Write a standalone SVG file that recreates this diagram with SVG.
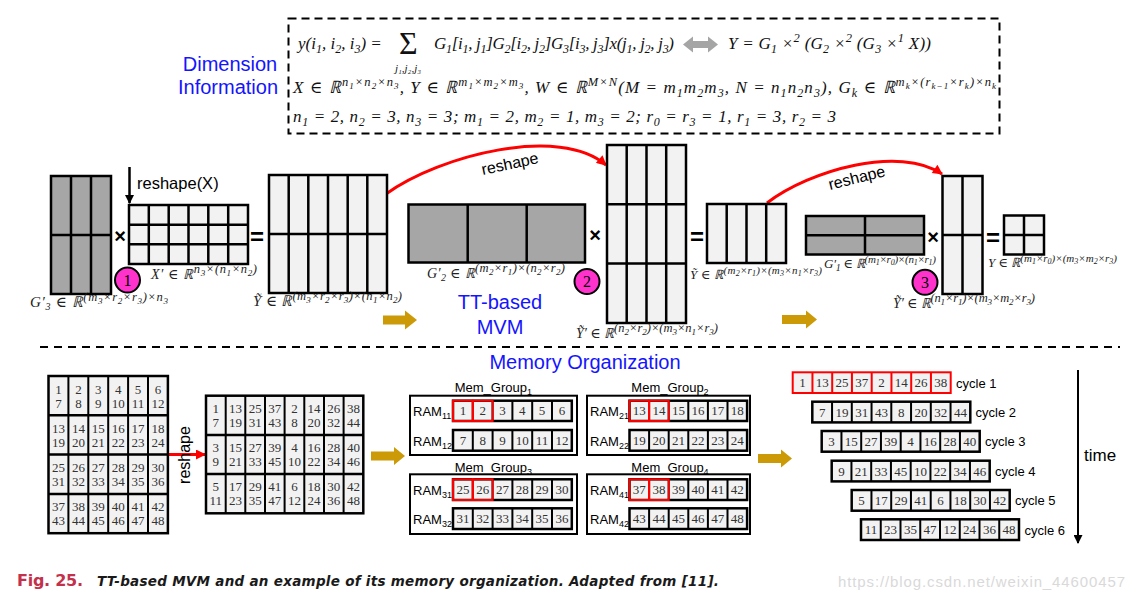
<svg xmlns="http://www.w3.org/2000/svg" width="1133" height="601" viewBox="0 0 1133 601">
<defs>
<style>
.sans{font-family:"Liberation Sans",Arial,sans-serif}
.fm{font-family:"Liberation Serif","DejaVu Serif",serif;font-style:italic;font-size:17px;fill:#111}
.sb{font-size:12px;baseline-shift:-4px}
.sp{font-size:12.5px;baseline-shift:7px}
.sq{font-size:9px;baseline-shift:4px}
.lb{font-family:"Liberation Serif","DejaVu Serif",serif;font-style:italic;fill:#222}
.p{font-size:12.5px;baseline-shift:6.5px}
.q{font-size:9px;baseline-shift:3.5px}
.p2{font-size:11px;baseline-shift:5.5px}
.q2{font-size:8px;baseline-shift:3px}
.u{font-size:10px;baseline-shift:-3px}
.blue{font-family:"Liberation Sans",Arial,sans-serif;font-size:20px;fill:#1414ff;text-anchor:middle}
.lc{fill:#f2f2f2;stroke:#000;stroke-width:2.5}
.dk{fill:#a6a6a6;stroke:#000;stroke-width:2.5}
.gl{stroke:#000;stroke-width:2.5;fill:none}
.cl{stroke:#000;stroke-width:2;fill:none}
.row{fill:#f2f2f2;stroke:#000;stroke-width:2.5}
.n{font-family:"Liberation Serif","DejaVu Serif",serif;font-size:13px;text-anchor:middle;fill:#333}
.op{font-family:"Liberation Sans",Arial,sans-serif;font-weight:bold;text-anchor:middle;fill:#000}
.gold{fill:#cc9a06}
.red{stroke:#f00;stroke-width:3;fill:none}
.circ{fill:#ff33cc;stroke:#000;stroke-width:2}
.cn{font-family:"Liberation Serif",serif;font-size:16px;text-anchor:middle;fill:#000}
.rc{fill:none;stroke:#f00;stroke-width:2}
.ram{font-family:"Liberation Sans",Arial,sans-serif;font-size:13px;fill:#000}
.rs{font-size:9px;baseline-shift:-3px}
.grp{fill:#fff;stroke:#000;stroke-width:2}
.cyc{font-family:"Liberation Sans",Arial,sans-serif;font-size:13px;fill:#000}
.cap{font-family:"DejaVu Sans","Liberation Sans",sans-serif;font-weight:bold}
</style>
<marker id="ar" viewBox="0 0 10 10" refX="9" refY="5" markerWidth="12" markerHeight="10" markerUnits="userSpaceOnUse" orient="auto"><path d="M0,0L10,5L0,10z" fill="#f00"/></marker>
<marker id="ak" viewBox="0 0 10 10" refX="9" refY="5" markerWidth="11" markerHeight="9" markerUnits="userSpaceOnUse" orient="auto"><path d="M0,0L10,5L0,10z" fill="#000"/></marker>
</defs>
<rect width="1133" height="601" fill="#fff"/>

<g id="dim-title">
<text class="blue" x="230" y="70.5">Dimension</text>
<text class="blue" x="228" y="94">Information</text>
</g>
<g id="formula-box">
<rect x="288.5" y="18.5" width="711" height="115" fill="none" stroke="#000" stroke-width="2" stroke-dasharray="8 5"/>
<text class="fm" x="298" y="49">y(i<tspan class="sb">1</tspan>, i<tspan class="sb">2</tspan>, i<tspan class="sb">3</tspan>) =</text>
<text x="399" y="54" font-family="Liberation Serif,DejaVu Serif,serif" font-size="32" fill="#111">Σ</text>
<text class="fm" x="408" y="72" text-anchor="middle" style="font-size:11px">j₁,j₂,j₃</text>
<text class="fm" x="434" y="49" textLength="240">G<tspan class="sb">1</tspan>[i<tspan class="sb">1</tspan>, j<tspan class="sb">1</tspan>]G<tspan class="sb">2</tspan>[i<tspan class="sb">2</tspan>, j<tspan class="sb">2</tspan>]G<tspan class="sb">3</tspan>[i<tspan class="sb">3</tspan>, j<tspan class="sb">3</tspan>]x(j<tspan class="sb">1</tspan>, j<tspan class="sb">2</tspan>, j<tspan class="sb">3</tspan>)</text>
<polygon points="683,44.5 693,36.5 693,41 708,41 708,36.5 718,44.5 708,52.5 708,48 693,48 693,52.5" fill="#a5a5a5"/>
<text class="fm" x="728" y="49" textLength="203">Y = G<tspan class="sb">1</tspan> ×<tspan class="sp">2</tspan> (G<tspan class="sb">2</tspan> ×<tspan class="sp">2</tspan> (G<tspan class="sb">3</tspan> ×<tspan class="sp">1</tspan> X))</text>
<text class="fm" x="293" y="93" textLength="703">X ∈ ℝ<tspan class="sp">n</tspan><tspan class="sq">1</tspan><tspan class="sp">×n</tspan><tspan class="sq">2</tspan><tspan class="sp">×n</tspan><tspan class="sq">3</tspan>, Y ∈ ℝ<tspan class="sp">m</tspan><tspan class="sq">1</tspan><tspan class="sp">×m</tspan><tspan class="sq">2</tspan><tspan class="sp">×m</tspan><tspan class="sq">3</tspan>, W ∈ ℝ<tspan class="sp">M×N</tspan>(M = m<tspan class="sb">1</tspan>m<tspan class="sb">2</tspan>m<tspan class="sb">3</tspan>, N = n<tspan class="sb">1</tspan>n<tspan class="sb">2</tspan>n<tspan class="sb">3</tspan>), G<tspan class="sb">k</tspan> ∈ ℝ<tspan class="sp">m</tspan><tspan class="sq">k</tspan><tspan class="sp">×(r</tspan><tspan class="sq">k−1</tspan><tspan class="sp">×r</tspan><tspan class="sq">k</tspan><tspan class="sp">)×n</tspan><tspan class="sq">k</tspan></text>
<text class="fm" x="293" y="122" textLength="543">n<tspan class="sb">1</tspan> = 2, n<tspan class="sb">2</tspan> = 3, n<tspan class="sb">3</tspan> = 3; m<tspan class="sb">1</tspan> = 2, m<tspan class="sb">2</tspan> = 1, m<tspan class="sb">3</tspan> = 2; r<tspan class="sb">0</tspan> = r<tspan class="sb">3</tspan> = 1, r<tspan class="sb">1</tspan> = 3, r<tspan class="sb">2</tspan> = 3</text>
</g>

<g id="connectors">
<line x1="129.5" y1="167" x2="129.5" y2="203" stroke="#000" stroke-width="2.5" marker-end="url(#ak)"/>
<path class="red" d="M386,194 C440,155 560,125 606,165" marker-end="url(#ar)"/>
<path class="red" d="M767,203 C810,170 900,145 942,174" marker-end="url(#ar)"/>
<line class="red" x1="168" y1="454.5" x2="205" y2="454.5" marker-end="url(#ar)"/>
<line x1="1078" y1="370" x2="1078" y2="543" stroke="#000" stroke-width="2" marker-end="url(#ak)"/>
<polygon class="gold" points="383,315.5 405,315.5 405,310.5 417,320 405,329.5 405,324.5 383,324.5"/>
<polygon class="gold" points="782,315 806,315 806,310.5 817,319.5 806,328.5 806,324 782,324"/>
<polygon class="gold" points="371,451.5 394,451.5 394,447 405,456 394,465 394,460.5 371,460.5"/>
<polygon class="gold" points="758,454 781,454 781,449.5 792,458.5 781,467.5 781,463 758,463"/>
<text class="sans" x="0" y="0" font-size="16" text-anchor="middle" transform="translate(511,169) rotate(-12)">reshape</text>
<text class="sans" x="0" y="0" font-size="16" text-anchor="middle" transform="translate(858,183) rotate(-14)">reshape</text>
<text class="sans" x="137" y="189" font-size="16.5">reshape(X)</text>
<text class="sans" x="0" y="0" font-size="16" text-anchor="middle" transform="translate(189.5,455) rotate(-90)">reshape</text>
<text class="sans" x="1084" y="461" font-size="17">time</text>
</g>

<g id="G3p">
<rect class="dk" x="51" y="176" width="60" height="118"/>
<path class="gl" d="M71,176V294M91,176V294M51,235H111"/>
<text class="lb" x="30" y="307" font-size="15" textLength="138">G′<tspan class="u">3</tspan> ∈ ℝ<tspan class="p">(m</tspan><tspan class="q">3</tspan><tspan class="p">×r</tspan><tspan class="q">2</tspan><tspan class="p">×r</tspan><tspan class="q">3</tspan><tspan class="p">)×n</tspan><tspan class="q">3</tspan></text>
</g>
<g id="op1"><text class="op" x="120" y="243" font-size="20">×</text></g>
<g id="Xp">
<rect class="lc" x="129" y="205" width="119" height="59"/>
<path class="gl" d="M148.8,205V264M168.7,205V264M188.5,205V264M208.3,205V264M228.2,205V264M129,224.7H248M129,244.3H248"/>
<text class="lb" x="151" y="279" font-size="14" textLength="106">X′ ∈ ℝ<tspan class="p">n</tspan><tspan class="q">3</tspan><tspan class="p">×(n</tspan><tspan class="q">1</tspan><tspan class="p">×n</tspan><tspan class="q">2</tspan><tspan class="p">)</tspan></text>
</g>
<g id="step1"><circle class="circ" cx="127.5" cy="280" r="12.5"/><text class="cn" x="127.5" y="285.5">1</text></g>
<g id="eq1"><text class="op" x="257" y="245" font-size="24">=</text></g>
<g id="Yt1">
<rect class="lc" x="269" y="175" width="118" height="118"/>
<path class="gl" d="M288.7,175V293M308.3,175V293M328,175V293M347.7,175V293M367.3,175V293M269,234H387"/>
<text class="lb" x="253" y="306" font-size="15" textLength="149">Ỹ ∈ ℝ<tspan class="p">(m</tspan><tspan class="q">3</tspan><tspan class="p">×r</tspan><tspan class="q">2</tspan><tspan class="p">×r</tspan><tspan class="q">3</tspan><tspan class="p">)×(n</tspan><tspan class="q">1</tspan><tspan class="p">×n</tspan><tspan class="q">2</tspan><tspan class="p">)</tspan></text>
</g>
<g id="G2p">
<rect class="dk" x="408.5" y="204.5" width="176.5" height="58"/>
<path class="gl" d="M467.7,204.5V262.5M526.7,204.5V262.5"/>
<text class="lb" x="427" y="278" font-size="14" textLength="138">G′<tspan class="u">2</tspan> ∈ ℝ<tspan class="p">(m</tspan><tspan class="q">2</tspan><tspan class="p">×r</tspan><tspan class="q">1</tspan><tspan class="p">)×(n</tspan><tspan class="q">2</tspan><tspan class="p">×r</tspan><tspan class="q">2</tspan><tspan class="p">)</tspan></text>
</g>
<g id="tt-title">
<text class="blue" x="500" y="308.5">TT-based</text>
<text class="blue" x="500" y="334">MVM</text>
</g>
<g id="op2"><text class="op" x="595" y="242" font-size="20">×</text></g>
<g id="step2"><circle class="circ" cx="587" cy="281.5" r="12.5"/><text class="cn" x="587" y="287">2</text></g>
<g id="Ytp1">
<rect class="lc" x="607" y="145" width="79" height="178"/>
<path class="gl" d="M626.7,145V323M646.5,145V323M666.2,145V323M607,204.3H686M607,263.6H686"/>
<text class="lb" x="576" y="338" font-size="14" textLength="142">Ỹ′ ∈ ℝ<tspan class="p">(n</tspan><tspan class="q">2</tspan><tspan class="p">×r</tspan><tspan class="q">2</tspan><tspan class="p">)×(m</tspan><tspan class="q">3</tspan><tspan class="p">×n</tspan><tspan class="q">1</tspan><tspan class="p">×r</tspan><tspan class="q">3</tspan><tspan class="p">)</tspan></text>
</g>
<g id="eq2"><text class="op" x="697" y="244.5" font-size="24">=</text></g>
<g id="Yt2">
<rect class="lc" x="707" y="204" width="79" height="59"/>
<path class="gl" d="M726.7,204V263M746.5,204V263M766.2,204V263"/>
<text class="lb" x="690" y="278.5" font-size="13" textLength="132">Ỹ ∈ ℝ<tspan class="p2">(m</tspan><tspan class="q2">2</tspan><tspan class="p2">×r</tspan><tspan class="q2">1</tspan><tspan class="p2">)×(m</tspan><tspan class="q2">3</tspan><tspan class="p2">×n</tspan><tspan class="q2">1</tspan><tspan class="p2">×r</tspan><tspan class="q2">3</tspan><tspan class="p2">)</tspan></text>
</g>
<g id="G1p">
<rect class="dk" x="806" y="216" width="118" height="38.5"/>
<path class="gl" d="M865,216V254.5M806,235.2H924"/>
<text class="lb" x="824" y="267.5" font-size="13" textLength="112">G′<tspan class="u">1</tspan> ∈ ℝ<tspan class="p2">(m</tspan><tspan class="q2">1</tspan><tspan class="p2">×r</tspan><tspan class="q2">0</tspan><tspan class="p2">)×(n</tspan><tspan class="q2">1</tspan><tspan class="p2">×r</tspan><tspan class="q2">1</tspan><tspan class="p2">)</tspan></text>
</g>
<g id="op3"><text class="op" x="933" y="244" font-size="20">×</text></g>
<g id="step3"><circle class="circ" cx="925" cy="282.3" r="12.5"/><text class="cn" x="925" y="287.8">3</text></g>
<g id="Ytp2">
<rect class="lc" x="942.5" y="176" width="40" height="118"/>
<path class="gl" d="M962.5,176V294M942.5,235H982.5"/>
<text class="lb" x="893" y="307.5" font-size="14" textLength="142">Ỹ′ ∈ ℝ<tspan class="p">(n</tspan><tspan class="q">1</tspan><tspan class="p">×r</tspan><tspan class="q">1</tspan><tspan class="p">)×(m</tspan><tspan class="q">3</tspan><tspan class="p">×m</tspan><tspan class="q">2</tspan><tspan class="p">×r</tspan><tspan class="q">3</tspan><tspan class="p">)</tspan></text>
</g>
<g id="eq3"><text class="op" x="993" y="245.5" font-size="24">=</text></g>
<g id="Yout">
<rect class="lc" x="1004" y="215.5" width="40" height="39"/>
<path class="gl" d="M1024,215.5V254.5M1004,235H1044"/>
<text class="lb" x="988" y="267" font-size="13" textLength="129">Y ∈ ℝ<tspan class="p2">(m</tspan><tspan class="q2">1</tspan><tspan class="p2">×r</tspan><tspan class="q2">0</tspan><tspan class="p2">)×(m</tspan><tspan class="q2">3</tspan><tspan class="p2">×m</tspan><tspan class="q2">2</tspan><tspan class="p2">×r</tspan><tspan class="q2">3</tspan><tspan class="p2">)</tspan></text>
</g>

<g id="separator">
<line x1="40" y1="347" x2="1120" y2="347" stroke="#000" stroke-width="2.2" stroke-dasharray="8 6"/>
<text class="blue" x="585" y="369">Memory Organization</text>
</g>

<g id="W-grid">
<rect class="lc" x="48.5" y="376" width="119.4" height="157.2"/>
<path class="cl" d="M68.4,376V533.2M88.3,376V533.2M108.2,376V533.2M128.1,376V533.2M148,376V533.2"/>
<path class="gl" d="M48.5,415.3H167.9M48.5,454.6H167.9M48.5,493.9H167.9"/>
<text class="n" y="393.5"><tspan x="58.5">1</tspan><tspan x="78.4">2</tspan><tspan x="98.3">3</tspan><tspan x="118.2">4</tspan><tspan x="138.1">5</tspan><tspan x="158">6</tspan></text>
<text class="n" y="407.5"><tspan x="58.5">7</tspan><tspan x="78.4">8</tspan><tspan x="98.3">9</tspan><tspan x="118.2">10</tspan><tspan x="138.1">11</tspan><tspan x="158">12</tspan></text>
<text class="n" y="432.8"><tspan x="58.5">13</tspan><tspan x="78.4">14</tspan><tspan x="98.3">15</tspan><tspan x="118.2">16</tspan><tspan x="138.1">17</tspan><tspan x="158">18</tspan></text>
<text class="n" y="446.8"><tspan x="58.5">19</tspan><tspan x="78.4">20</tspan><tspan x="98.3">21</tspan><tspan x="118.2">22</tspan><tspan x="138.1">23</tspan><tspan x="158">24</tspan></text>
<text class="n" y="472.1"><tspan x="58.5">25</tspan><tspan x="78.4">26</tspan><tspan x="98.3">27</tspan><tspan x="118.2">28</tspan><tspan x="138.1">29</tspan><tspan x="158">30</tspan></text>
<text class="n" y="486.1"><tspan x="58.5">31</tspan><tspan x="78.4">32</tspan><tspan x="98.3">33</tspan><tspan x="118.2">34</tspan><tspan x="138.1">35</tspan><tspan x="158">36</tspan></text>
<text class="n" y="511.4"><tspan x="58.5">37</tspan><tspan x="78.4">38</tspan><tspan x="98.3">39</tspan><tspan x="118.2">40</tspan><tspan x="138.1">41</tspan><tspan x="158">42</tspan></text>
<text class="n" y="525.4"><tspan x="58.5">43</tspan><tspan x="78.4">44</tspan><tspan x="98.3">45</tspan><tspan x="118.2">46</tspan><tspan x="138.1">47</tspan><tspan x="158">48</tspan></text>
</g>

<g id="reshaped-grid">
<rect class="lc" x="206" y="395.7" width="157.3" height="117.6"/>
<path class="cl" d="M225.7,395.7V513.3M245.3,395.7V513.3M265,395.7V513.3M284.6,395.7V513.3M304.3,395.7V513.3M324,395.7V513.3M343.6,395.7V513.3"/>
<path class="gl" d="M206,434.9H363.3M206,474.1H363.3"/>
<text class="n" y="412.7"><tspan x="215.8">1</tspan><tspan x="235.5">13</tspan><tspan x="255.2">25</tspan><tspan x="274.8">37</tspan><tspan x="294.5">2</tspan><tspan x="314.1">14</tspan><tspan x="333.8">26</tspan><tspan x="353.4">38</tspan></text>
<text class="n" y="426.7"><tspan x="215.8">7</tspan><tspan x="235.5">19</tspan><tspan x="255.2">31</tspan><tspan x="274.8">43</tspan><tspan x="294.5">8</tspan><tspan x="314.1">20</tspan><tspan x="333.8">32</tspan><tspan x="353.4">44</tspan></text>
<text class="n" y="451.9"><tspan x="215.8">3</tspan><tspan x="235.5">15</tspan><tspan x="255.2">27</tspan><tspan x="274.8">39</tspan><tspan x="294.5">4</tspan><tspan x="314.1">16</tspan><tspan x="333.8">28</tspan><tspan x="353.4">40</tspan></text>
<text class="n" y="465.9"><tspan x="215.8">9</tspan><tspan x="235.5">21</tspan><tspan x="255.2">33</tspan><tspan x="274.8">45</tspan><tspan x="294.5">10</tspan><tspan x="314.1">22</tspan><tspan x="333.8">34</tspan><tspan x="353.4">46</tspan></text>
<text class="n" y="491.1"><tspan x="215.8">5</tspan><tspan x="235.5">17</tspan><tspan x="255.2">29</tspan><tspan x="274.8">41</tspan><tspan x="294.5">6</tspan><tspan x="314.1">18</tspan><tspan x="333.8">30</tspan><tspan x="353.4">42</tspan></text>
<text class="n" y="505.1"><tspan x="215.8">11</tspan><tspan x="235.5">23</tspan><tspan x="255.2">35</tspan><tspan x="274.8">47</tspan><tspan x="294.5">12</tspan><tspan x="314.1">24</tspan><tspan x="333.8">36</tspan><tspan x="353.4">48</tspan></text>
</g>

<g id="mem-group-1">
<text class="ram" x="493.3" y="391.5" text-anchor="middle">Mem_Group<tspan class="rs">1</tspan></text>
<rect class="grp" x="410" y="395.7" width="167" height="59.3"/>
<text class="ram" x="413" y="416">RAM<tspan class="rs">11</tspan></text>
<text class="ram" x="413" y="445.5">RAM<tspan class="rs">12</tspan></text>
<rect class="row" x="453" y="400.7" width="118.8" height="20.3"/>
<path class="cl" d="M472.8,400.7v20.3M492.6,400.7v20.3M512.4,400.7v20.3M532.2,400.7v20.3M552,400.7v20.3"/>
<rect class="row" x="453" y="430" width="118.8" height="20.7"/>
<path class="cl" d="M472.8,430v20.7M492.6,430v20.7M512.4,430v20.7M532.2,430v20.7M552,430v20.7"/>
<rect class="rc" x="453" y="400.7" width="19.8" height="20.3"/><rect class="rc" x="472.8" y="400.7" width="19.8" height="20.3"/>
<text class="n" y="415.3"><tspan x="462.9">1</tspan><tspan x="482.7">2</tspan><tspan x="502.5">3</tspan><tspan x="522.3">4</tspan><tspan x="542.1">5</tspan><tspan x="561.9">6</tspan></text>
<text class="n" y="444.8"><tspan x="462.9">7</tspan><tspan x="482.7">8</tspan><tspan x="502.5">9</tspan><tspan x="522.3">10</tspan><tspan x="542.1">11</tspan><tspan x="561.9">12</tspan></text>
</g>
<g id="mem-group-2">
<text class="ram" x="670" y="391.5" text-anchor="middle">Mem_Group<tspan class="rs">2</tspan></text>
<rect class="grp" x="587" y="395.7" width="163" height="59.3"/>
<text class="ram" x="590" y="416">RAM<tspan class="rs">21</tspan></text>
<text class="ram" x="590" y="445.5">RAM<tspan class="rs">22</tspan></text>
<rect class="row" x="629.5" y="400.7" width="117.6" height="20.3"/>
<path class="cl" d="M649.1,400.7v20.3M668.7,400.7v20.3M688.3,400.7v20.3M707.9,400.7v20.3M727.5,400.7v20.3"/>
<rect class="row" x="629.5" y="430" width="117.6" height="20.7"/>
<path class="cl" d="M649.1,430v20.7M668.7,430v20.7M688.3,430v20.7M707.9,430v20.7M727.5,430v20.7"/>
<rect class="rc" x="629.5" y="400.7" width="19.6" height="20.3"/><rect class="rc" x="649.1" y="400.7" width="19.6" height="20.3"/>
<text class="n" y="415.3"><tspan x="639.3">13</tspan><tspan x="658.9">14</tspan><tspan x="678.5">15</tspan><tspan x="698.1">16</tspan><tspan x="717.7">17</tspan><tspan x="737.3">18</tspan></text>
<text class="n" y="444.8"><tspan x="639.3">19</tspan><tspan x="658.9">20</tspan><tspan x="678.5">21</tspan><tspan x="698.1">22</tspan><tspan x="717.7">23</tspan><tspan x="737.3">24</tspan></text>
</g>
<g id="mem-group-3">
<text class="ram" x="493.3" y="471.5" text-anchor="middle">Mem_Group<tspan class="rs">3</tspan></text>
<rect class="grp" x="410" y="474.3" width="167" height="59.7"/>
<text class="ram" x="413" y="494.5">RAM<tspan class="rs">31</tspan></text>
<text class="ram" x="413" y="523.5">RAM<tspan class="rs">32</tspan></text>
<rect class="row" x="453" y="479.3" width="118.8" height="20.7"/>
<path class="cl" d="M472.8,479.3v20.7M492.6,479.3v20.7M512.4,479.3v20.7M532.2,479.3v20.7M552,479.3v20.7"/>
<rect class="row" x="453" y="508.3" width="118.8" height="20.7"/>
<path class="cl" d="M472.8,508.3v20.7M492.6,508.3v20.7M512.4,508.3v20.7M532.2,508.3v20.7M552,508.3v20.7"/>
<rect class="rc" x="453" y="479.3" width="19.8" height="20.7"/><rect class="rc" x="472.8" y="479.3" width="19.8" height="20.7"/>
<text class="n" y="494"><tspan x="462.9">25</tspan><tspan x="482.7">26</tspan><tspan x="502.5">27</tspan><tspan x="522.3">28</tspan><tspan x="542.1">29</tspan><tspan x="561.9">30</tspan></text>
<text class="n" y="523.2"><tspan x="462.9">31</tspan><tspan x="482.7">32</tspan><tspan x="502.5">33</tspan><tspan x="522.3">34</tspan><tspan x="542.1">35</tspan><tspan x="561.9">36</tspan></text>
</g>
<g id="mem-group-4">
<text class="ram" x="670" y="471.5" text-anchor="middle">Mem_Group<tspan class="rs">4</tspan></text>
<rect class="grp" x="587" y="474.3" width="163" height="59.7"/>
<text class="ram" x="590" y="494.5">RAM<tspan class="rs">41</tspan></text>
<text class="ram" x="590" y="523.5">RAM<tspan class="rs">42</tspan></text>
<rect class="row" x="629.5" y="479.3" width="117.6" height="20.7"/>
<path class="cl" d="M649.1,479.3v20.7M668.7,479.3v20.7M688.3,479.3v20.7M707.9,479.3v20.7M727.5,479.3v20.7"/>
<rect class="row" x="629.5" y="508.3" width="117.6" height="20.7"/>
<path class="cl" d="M649.1,508.3v20.7M668.7,508.3v20.7M688.3,508.3v20.7M707.9,508.3v20.7M727.5,508.3v20.7"/>
<rect class="rc" x="629.5" y="479.3" width="19.6" height="20.7"/><rect class="rc" x="649.1" y="479.3" width="19.6" height="20.7"/>
<text class="n" y="494"><tspan x="639.3">37</tspan><tspan x="658.9">38</tspan><tspan x="678.5">39</tspan><tspan x="698.1">40</tspan><tspan x="717.7">41</tspan><tspan x="737.3">42</tspan></text>
<text class="n" y="523.2"><tspan x="639.3">43</tspan><tspan x="658.9">44</tspan><tspan x="678.5">45</tspan><tspan x="698.1">46</tspan><tspan x="717.7">47</tspan><tspan x="737.3">48</tspan></text>
</g>

<g id="cycle-1">
<rect x="792.7" y="372.3" width="158" height="20.7" fill="#f2f2f2" stroke="#f00" stroke-width="2"/>
<path d="M812.45,372.3v20.7M832.2,372.3v20.7M851.95,372.3v20.7M871.7,372.3v20.7M891.45,372.3v20.7M911.2,372.3v20.7M930.95,372.3v20.7" stroke="#f00" stroke-width="2"/>
<text class="n" y="387.3"><tspan x="802.6">1</tspan><tspan x="822.3">13</tspan><tspan x="842.1">25</tspan><tspan x="861.8">37</tspan><tspan x="881.6">2</tspan><tspan x="901.3">14</tspan><tspan x="921.1">26</tspan><tspan x="940.8">38</tspan></text>
<text class="cyc" x="956" y="387.5">cycle 1</text>
</g>
<g id="cycle-2">
<rect class="row" x="812.3" y="401.7" width="158" height="20.7"/>
<path class="cl" d="M832.05,401.7v20.7M851.8,401.7v20.7M871.55,401.7v20.7M891.3,401.7v20.7M911.05,401.7v20.7M930.8,401.7v20.7M950.55,401.7v20.7"/>
<text class="n" y="416.7"><tspan x="822.2">7</tspan><tspan x="841.9">19</tspan><tspan x="861.7">31</tspan><tspan x="881.4">43</tspan><tspan x="901.2">8</tspan><tspan x="920.9">20</tspan><tspan x="940.7">32</tspan><tspan x="960.4">44</tspan></text>
<text class="cyc" x="975.5" y="417">cycle 2</text>
</g>
<g id="cycle-3">
<rect class="row" x="821.7" y="431" width="158" height="20.7"/>
<path class="cl" d="M841.45,431v20.7M861.2,431v20.7M880.95,431v20.7M900.7,431v20.7M920.45,431v20.7M940.2,431v20.7M959.95,431v20.7"/>
<text class="n" y="446"><tspan x="831.6">3</tspan><tspan x="851.3">15</tspan><tspan x="871.1">27</tspan><tspan x="890.8">39</tspan><tspan x="910.6">4</tspan><tspan x="930.3">16</tspan><tspan x="950.1">28</tspan><tspan x="969.8">40</tspan></text>
<text class="cyc" x="985" y="446.3">cycle 3</text>
</g>
<g id="cycle-4">
<rect class="row" x="831.7" y="460.7" width="158" height="20.7"/>
<path class="cl" d="M851.45,460.7v20.7M871.2,460.7v20.7M890.95,460.7v20.7M910.7,460.7v20.7M930.45,460.7v20.7M950.2,460.7v20.7M969.95,460.7v20.7"/>
<text class="n" y="475.7"><tspan x="841.6">9</tspan><tspan x="861.3">21</tspan><tspan x="881.1">33</tspan><tspan x="900.8">45</tspan><tspan x="920.6">10</tspan><tspan x="940.3">22</tspan><tspan x="960.1">34</tspan><tspan x="979.8">46</tspan></text>
<text class="cyc" x="995" y="476">cycle 4</text>
</g>
<g id="cycle-5">
<rect class="row" x="851.7" y="490" width="158" height="20.7"/>
<path class="cl" d="M871.45,490v20.7M891.2,490v20.7M910.95,490v20.7M930.7,490v20.7M950.45,490v20.7M970.2,490v20.7M989.95,490v20.7"/>
<text class="n" y="505"><tspan x="861.6">5</tspan><tspan x="881.3">17</tspan><tspan x="901.1">29</tspan><tspan x="920.8">41</tspan><tspan x="940.6">6</tspan><tspan x="960.3">18</tspan><tspan x="980.1">30</tspan><tspan x="999.8">42</tspan></text>
<text class="cyc" x="1015" y="505.3">cycle 5</text>
</g>
<g id="cycle-6">
<rect class="row" x="861" y="519.3" width="158" height="20.7"/>
<path class="cl" d="M880.75,519.3v20.7M900.5,519.3v20.7M920.25,519.3v20.7M940,519.3v20.7M959.75,519.3v20.7M979.5,519.3v20.7M999.25,519.3v20.7"/>
<text class="n" y="534.3"><tspan x="870.9">11</tspan><tspan x="890.6">23</tspan><tspan x="910.4">35</tspan><tspan x="930.1">47</tspan><tspan x="949.9">12</tspan><tspan x="969.6">24</tspan><tspan x="989.4">36</tspan><tspan x="1009.1">48</tspan></text>
<text class="cyc" x="1024.5" y="534.6">cycle 6</text>
</g>

<g id="caption">
<text class="cap" x="17" y="586" font-size="16" fill="#c4314b" textLength="66">Fig. 25.</text>
<text class="cap" x="97" y="586" font-size="13.5" font-style="italic" fill="#1a1a1a" textLength="622">TT-based MVM and an example of its memory organization. Adapted from [11].</text>
<text class="sans" x="838" y="587" font-size="15" fill="#d9d9d9" textLength="287">https://blog.csdn.net/weixin_44600457</text>
</g>
</svg>
